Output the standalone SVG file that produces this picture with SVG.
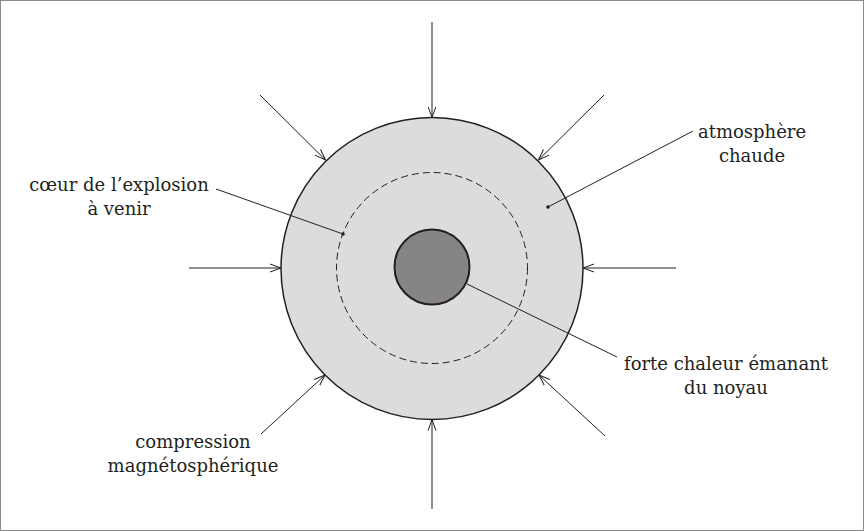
<svg xmlns="http://www.w3.org/2000/svg" width="864" height="531" viewBox="0 0 864 531">
<style>
.lbl{font-family:"DejaVu Serif","Liberation Serif",serif;font-size:18px;fill:#231f20;text-anchor:middle}
.arr{stroke:#231f20;stroke-width:1;fill:none;marker-end:url(#ah)}
.lead{stroke:#231f20;stroke-width:1;fill:none}
</style>
<defs>
<marker id="ah" viewBox="0 0 12 10" refX="11" refY="5" markerWidth="12" markerHeight="10" markerUnits="userSpaceOnUse" orient="auto">
<path d="M0,1 L11,5 L0,9" fill="none" stroke="#231f20" stroke-width="1"/>
</marker>
</defs>
<rect x="0.5" y="0.5" width="863" height="530" fill="#fff" stroke="#8a8a8a" stroke-width="1"/>
<g id="atmosphere">
<circle cx="432" cy="268.5" r="151" fill="#dcdcdc" stroke="#231f20" stroke-width="1.5"/>
</g>
<g id="coeur">
<circle cx="432" cy="268" r="95.5" fill="none" stroke="#231f20" stroke-width="1" stroke-dasharray="7,4"/>
</g>
<g id="noyau">
<circle cx="432" cy="267" r="37.5" fill="#878583" stroke="#231f20" stroke-width="2"/>
</g>
<g id="connectors">
<line class="arr" x1="432" y1="22" x2="432" y2="117.5"/>
<line class="arr" x1="432" y1="509" x2="432" y2="419.5"/>
<line class="arr" x1="189" y1="268" x2="281" y2="268"/>
<line class="arr" x1="676" y1="268" x2="583" y2="268"/>
<line class="arr" x1="260" y1="95" x2="325.5" y2="160"/>
<line class="arr" x1="604" y1="95" x2="538.5" y2="160"/>
<line class="arr" x1="261" y1="434" x2="325" y2="375"/>
<line class="arr" x1="605" y1="436" x2="539" y2="375"/>
<line class="lead" x1="216" y1="189" x2="343" y2="234"/>
<circle cx="343" cy="234" r="1.8" fill="#231f20"/>
<line class="lead" x1="693" y1="131" x2="548" y2="207"/>
<circle cx="548" cy="207" r="1.8" fill="#231f20"/>
<line class="lead" x1="467" y1="284" x2="617" y2="357"/>
</g>
<g id="label-coeur">
<text class="lbl" x="119" y="191">cœur de l’explosion</text>
<text class="lbl" x="119" y="215">à venir</text>
</g>
<g id="label-atmosphere">
<text class="lbl" x="752" y="138">atmosphère</text>
<text class="lbl" x="752" y="162">chaude</text>
</g>
<g id="label-noyau">
<text class="lbl" x="726" y="370">forte chaleur émanant</text>
<text class="lbl" x="726" y="394">du noyau</text>
</g>
<g id="label-compression">
<text class="lbl" x="193" y="448">compression</text>
<text class="lbl" x="193" y="472">magnétosphérique</text>
</g>
</svg>
